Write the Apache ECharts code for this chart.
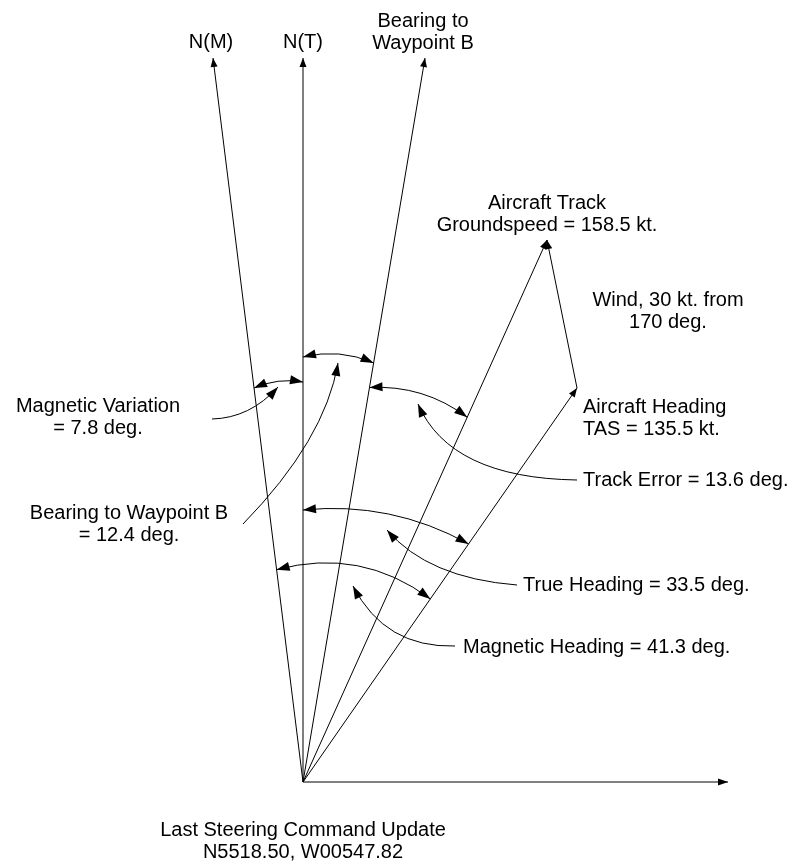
<!DOCTYPE html>
<html><head><meta charset="utf-8">
<script src="https://cdn.jsdelivr.net/npm/echarts@6/dist/echarts.min.js"></script>
<style>html,body{margin:0;padding:0;background:#fff}#chart{width:794px;height:865px}</style>
</head><body><div id="chart"></div>
<script>
// ---------------- data (diagram units, east / north from the steering-update point) ----------------
const vectorNames = ['N(M)', 'N(T)', 'Bearing to Waypoint B', 'Aircraft Track', 'Aircraft Heading', 'East'];
const vectorEast  = [-90, 0, 122, 244, 274, 425];
const vectorNorth = [724, 724, 724, 542, 394, 0];
const windFromVector = 4;   // wind vector: heading tip -> track tip
const windToVector = 3;

const angleNames  = ['Magnetic Variation', 'Bearing to Waypoint B', 'Track Error', 'True Heading', 'Magnetic Heading'];
const angleValues = [7.8, 12.4, 13.6, 33.5, 41.3];
const angleFrom   = [0, 1, 2, 1, 0];
const angleTo     = [1, 2, 3, 4, 4];

const groundspeedKt = 158.5;
const tasKt = 135.5;
const windKt = 30;
const windFromDeg = 170;
const positionText = ['N5518.50', 'W00547.82'];

// ---------------- layout (diagram units) ----------------
const arcRadiusFrom = [397, 425, 400, 272, 214];
const arcRadiusTo   = [400, 425, 400, 290, 223];
const arcBulge      = [6, 9, 12, 0, 8];
const leaderStart = [[-91, 363], [-60, 258], [274, 302], [214, 197], [152, 136]];
const leaderCtrl  = [[-53, 364], [22, 342], [147, 304], [125, 204], [82, 134]];
const leaderTip   = [[-25, 395], [35, 419], [115, 378], [84, 252], [50, 196]];
const angleLabelPos   = [[-205, 364.5], [-174, 258], [280, 302], [220, 197], [160, 135]];
const angleLabelAlign = ['center', 'center', 'left', 'left', 'left'];

const labelTexts = [
  'N(M)', 'N(T)', 'Bearing to\nWaypoint B',
  'Aircraft Track\nGroundspeed = ' + groundspeedKt + ' kt.',
  'Wind, ' + windKt + ' kt. from\n' + windFromDeg + ' deg.',
  'Aircraft Heading\nTAS = ' + tasKt + ' kt.',
  'Last Steering Command Update\n' + positionText.join(', ')
];
const labelPos   = [[-92, 740], [0, 740], [120, 750], [244, 567.5], [365, 470.5], [280, 363.5], [0, -59.5]];
const labelAlign = ['center', 'center', 'center', 'center', 'center', 'left', 'center'];

const FONT = { fontFamily: 'Liberation Sans, Arial, sans-serif', fontSize: 20, lineHeight: 22 };
const STROKE = { stroke: '#000', lineWidth: 1, fill: null };

function arrowHead(tip, dir, L, W) {
  const len = Math.hypot(dir[0], dir[1]);
  const ux = dir[0] / len, uy = dir[1] / len;
  const bx = tip[0] - ux * L, by = tip[1] - uy * L;
  return { type: 'polygon', shape: { points: [[tip[0], tip[1]], [bx - uy * W, by + ux * W], [bx + uy * W, by - ux * W]] },
           style: { fill: '#000', stroke: null } };
}
function unit(i) {
  const l = Math.hypot(vectorEast[i], vectorNorth[i]);
  return [vectorEast[i] / l, vectorNorth[i] / l];
}

const chart = echarts.init(document.getElementById('chart'), null, { renderer: 'canvas' });

const option = {
  animation: false,
  backgroundColor: '#fff',
  grid: { left: 0, right: 0, top: 0, bottom: 0 },
  xAxis: { type: 'value', min: -303, max: 491, show: false },
  yAxis: { type: 'value', min: -83, max: 782, show: false },
  series: [
    { // vectors
      type: 'custom', silent: true, clip: false,
      data: vectorNames.map((n, i) => [vectorEast[i], vectorNorth[i]]),
      renderItem(params, api) {
        const o = api.coord([0, 0]);
        const t = api.coord([api.value(0), api.value(1)]);
        const isAxis = params.dataIndex === 5;
        return { type: 'group', children: [
          { type: 'line', shape: { x1: o[0], y1: o[1], x2: t[0], y2: t[1] }, style: STROKE },
          arrowHead(t, [t[0] - o[0], t[1] - o[1]], isAxis ? 10 : 9, isAxis ? 3.5 : 3.5)
        ]};
      }
    },
    { // wind vector
      type: 'custom', silent: true, clip: false,
      data: [[vectorEast[windFromVector], vectorNorth[windFromVector], vectorEast[windToVector], vectorNorth[windToVector]]],
      renderItem(params, api) {
        const a = api.coord([api.value(0), api.value(1)]);
        const b = api.coord([api.value(2), api.value(3)]);
        return { type: 'group', children: [
          { type: 'line', shape: { x1: a[0], y1: a[1], x2: b[0], y2: b[1] }, style: STROKE },
          arrowHead(b, [b[0] - a[0], b[1] - a[1]], 9, 3.5)
        ]};
      }
    },
    { // angle arcs (double arrows)
      type: 'custom', silent: true, clip: false,
      data: angleValues.map((v, i) => [i, v]),
      renderItem(params, api) {
        const i = params.dataIndex;
        const u1 = unit(angleFrom[i]), u2 = unit(angleTo[i]);
        const r1 = arcRadiusFrom[i], r2 = arcRadiusTo[i];
        const h = Math.acos(u1[0] * u2[0] + u1[1] * u2[1]) / 2;
        let bx = u1[0] + u2[0], by = u1[1] + u2[1];
        const bl = Math.hypot(bx, by); bx /= bl; by /= bl;
        const rc = (r1 + r2) / 2 / Math.cos(h) + arcBulge[i];
        const p1 = api.coord([u1[0] * r1, u1[1] * r1]);
        const p2 = api.coord([u2[0] * r2, u2[1] * r2]);
        const c = api.coord([bx * rc, by * rc]);
        return { type: 'group', children: [
          { type: 'bezierCurve', shape: { x1: p1[0], y1: p1[1], x2: p2[0], y2: p2[1], cpx1: c[0], cpy1: c[1] }, style: STROKE },
          arrowHead(p1, [p1[0] - c[0], p1[1] - c[1]], 13, 4.5),
          arrowHead(p2, [p2[0] - c[0], p2[1] - c[1]], 13, 4.5)
        ]};
      }
    },
    { // leaders from angle labels
      type: 'custom', silent: true, clip: false,
      data: angleValues.map((v, i) => [i, v]),
      renderItem(params, api) {
        const i = params.dataIndex;
        const s = api.coord(leaderStart[i]);
        const c = api.coord(leaderCtrl[i]);
        const t = api.coord(leaderTip[i]);
        return { type: 'group', children: [
          { type: 'bezierCurve', shape: { x1: s[0], y1: s[1], x2: t[0], y2: t[1], cpx1: c[0], cpy1: c[1] }, style: STROKE },
          arrowHead(t, [t[0] - c[0], t[1] - c[1]], 13, 4.5)
        ]};
      }
    },
    { // angle labels
      type: 'custom', silent: true, clip: false,
      data: angleValues.map((v, i) => [i, v]),
      renderItem(params, api) {
        const i = params.dataIndex;
        const p = api.coord(angleLabelPos[i]);
        const txt = angleLabelAlign[i] === 'center'
          ? angleNames[i] + '\n= ' + angleValues[i] + ' deg.'
          : angleNames[i] + ' = ' + angleValues[i] + ' deg.';
        return { type: 'text', style: Object.assign({ text: txt, x: p[0], y: p[1], fill: '#000',
          align: angleLabelAlign[i], verticalAlign: 'middle' }, FONT) };
      }
    },
    { // other labels
      type: 'custom', silent: true, clip: false,
      data: labelTexts.map((t, i) => [i, 0]),
      renderItem(params, api) {
        const i = params.dataIndex;
        const p = api.coord(labelPos[i]);
        return { type: 'text', style: Object.assign({ text: labelTexts[i], x: p[0], y: p[1], fill: '#000',
          align: labelAlign[i], verticalAlign: 'middle' }, FONT) };
      }
    }
  ]
};
chart.setOption(option);
</script>
</body></html>
